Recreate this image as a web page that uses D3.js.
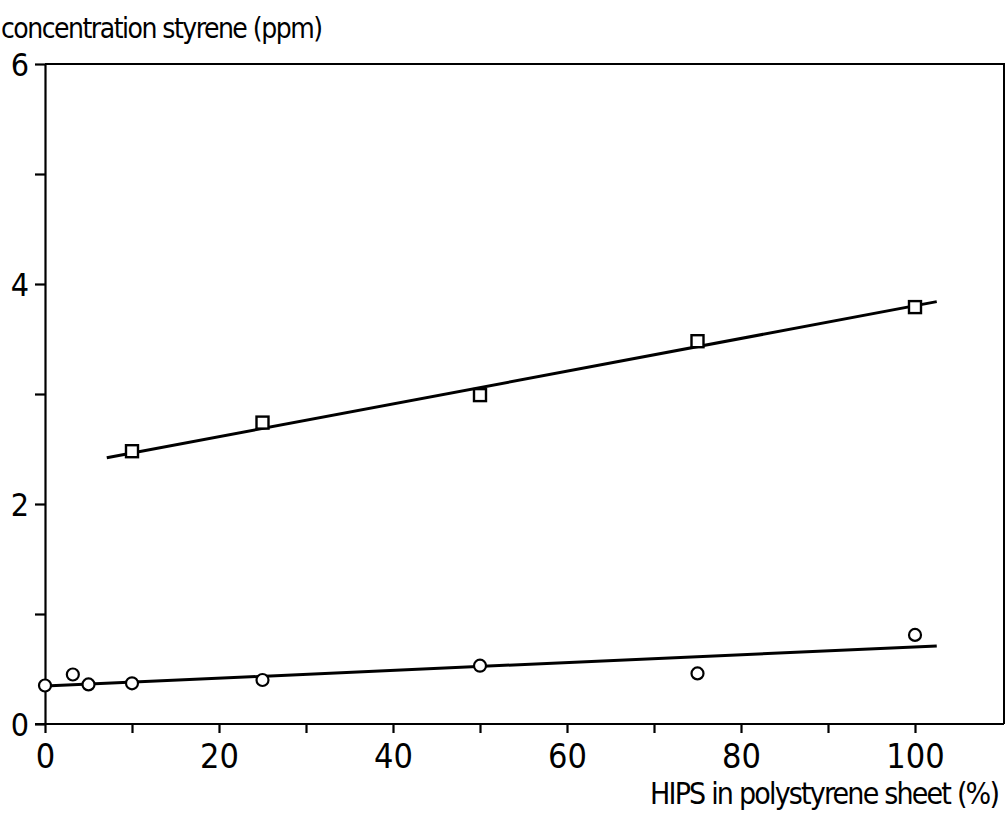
<!DOCTYPE html>
<html>
<head>
<meta charset="utf-8">
<script src="https://cdn.jsdelivr.net/npm/d3@7"></script>
<style>
  body { margin: 0; background: #fff; }
  svg text { font-family: "DejaVu Sans", sans-serif; font-stretch: condensed; fill: #000; }
</style>
</head>
<body>
<svg width="1008" height="817"></svg>
<script>
// HIPS content (%) and measured styrene (ppm)
const squareX = [10, 25, 50, 75, 100];
const squareY = [2.48, 2.74, 2.99, 3.48, 3.79];
const circleX = [0, 3.2, 5, 10, 25, 50, 75, 100];
const circleY = [0.35, 0.45, 0.36, 0.37, 0.40, 0.53, 0.46, 0.81];
// fitted lines: [x, y] ends
const squareFit = [[7.1, 2.42], [102.5, 3.84]];
const circleFit = [[0, 0.345], [102.5, 0.71]];
const xTicks = [0, 10, 20, 30, 40, 50, 60, 70, 80, 90, 100];
const xLabels = [0, 20, 40, 60, 80, 100];
const yTicks = [0, 1, 2, 3, 4, 5, 6];
const yLabels = [0, 2, 4, 6];

let svg = d3.select("svg");
const mLeft = 45, mRight = 1004, mTop = 64, mBottom = 724;

const x = d3.scaleLinear().domain([0, 110]).range([mLeft, mLeft + 8.7 * 110]);
const y = d3.scaleLinear().domain([0, 6]).range([mBottom, mTop]);

// frame
svg.append("path")
    .attr("d", `M${mLeft},${mTop}H${mRight}V${mBottom}`)
    .attr("fill", "none").attr("stroke", "#000").attr("stroke-width", 2);

const xAxis = svg.append("g")
    .attr("transform", `translate(0,${mBottom})`)
    .call(d3.axisBottom(x).tickValues(xTicks).tickSize(9).tickSizeOuter(0)
      .tickFormat(d => xLabels.includes(d) ? d : ""));
xAxis.select(".domain").attr("d", `M${mLeft - 10},0H${mRight}`);

const yAxis = svg.append("g")
    .attr("transform", `translate(${mLeft},0)`)
    .call(d3.axisLeft(y).tickValues(yTicks).tickSize(10).tickSizeOuter(0)
      .tickFormat(d => yLabels.includes(d) ? d : ""));

svg.selectAll("g").attr("font-family", null);
svg.selectAll(".domain").attr("stroke", "#000").attr("stroke-width", 2.2);
svg.selectAll(".tick line").attr("stroke", "#000").attr("stroke-width", 2.2);
xAxis.selectAll(".tick text").attr("font-size", 34).attr("dy", 0).attr("y", 44);
yAxis.selectAll(".tick text").attr("font-size", 32).attr("x", -16).attr("dy", "0.36em");

// fitted lines
const line = d3.line().x(d => x(d[0])).y(d => y(d[1]));
[squareFit, circleFit].forEach(f => {
  svg.append("path").attr("d", line(f))
      .attr("fill", "none").attr("stroke", "#000").attr("stroke-width", 3);
});

// squares
svg.selectAll(".sq").data(squareX).enter().append("rect")
    .attr("class", "sq")
    .attr("x", d => x(d) - 6)
    .attr("y", (d, i) => y(squareY[i]) - 6)
    .attr("width", 12).attr("height", 12)
    .attr("fill", "#fff").attr("stroke", "#000").attr("stroke-width", 2.4);

// circles
svg.selectAll(".ci").data(circleX).enter().append("circle")
    .attr("class", "ci")
    .attr("cx", d => x(d))
    .attr("cy", (d, i) => y(circleY[i]))
    .attr("r", 6)
    .attr("fill", "#fff").attr("stroke", "#000").attr("stroke-width", 2.2);

svg.append("text").attr("x", 1).attr("y", 38)
    .attr("font-size", 28)
    .attr("textLength", 322).attr("lengthAdjust", "spacing")
    .text("concentration styrene (ppm)");
svg.append("text").attr("x", 650).attr("y", 804)
    .attr("font-size", 30)
    .attr("textLength", 350).attr("lengthAdjust", "spacing")
    .text("HIPS in polystyrene sheet (%)");
</script>
</body>
</html>
